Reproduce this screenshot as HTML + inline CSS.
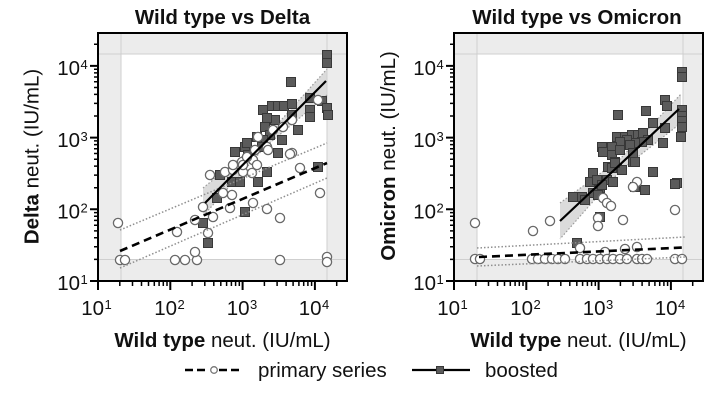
<!DOCTYPE html>
<html>
<head>
<meta charset="utf-8">
<style>
  html,body{margin:0;padding:0;background:#fff;}
  svg{display:block;}
  text{font-family:"Liberation Sans",Arial,Helvetica,sans-serif;fill:#111;}
</style>
</head>
<body>
<svg width="720" height="401" viewBox="0 0 720 401" xmlns="http://www.w3.org/2000/svg">
  <defs>
    <rect id="sq" x="-4.5" y="-4.5" width="9" height="9" fill="#5b5b5b" stroke="#383838" stroke-width="1"/>
    <circle id="ci" cx="0" cy="0" r="4.6" fill="#ffffff" stroke="#6a6a6a" stroke-width="1.3"/>
    <g id="frame">
      <rect x="98" y="33" width="249" height="248" fill="#ececec"/>
      <rect x="121" y="54" width="206" height="205" fill="#ffffff"/>
      <path d="M121 33 V281 M327 33 V281 M98 54 H347 M98 259.5 H347" stroke="#cfcfcf" stroke-width="1" fill="none"/>
    </g>
    <g id="axes">
      <rect x="98" y="33" width="249" height="248" fill="none" stroke="#000" stroke-width="2"/>
      <!-- y major ticks -->
      <path d="M90 281 H98 M90 209.3 H98 M90 137.6 H98 M90 65.9 H98" stroke="#000" stroke-width="2"/>
      <!-- y minor ticks -->
      <path d="M94 259.4 H98 M94 246.8 H98 M94 237.8 H98 M94 230.9 H98 M94 225.2 H98 M94 220.4 H98 M94 216.3 H98 M94 212.6 H98
               M94 187.7 H98 M94 175.1 H98 M94 166.1 H98 M94 159.2 H98 M94 153.5 H98 M94 148.7 H98 M94 144.6 H98 M94 140.9 H98
               M94 116 H98 M94 103.4 H98 M94 94.4 H98 M94 87.5 H98 M94 81.8 H98 M94 77 H98 M94 72.9 H98 M94 69.2 H98
               M94 44.3 H98" stroke="#000" stroke-width="1.5"/>
      <!-- x major ticks -->
      <path d="M98 281 V290 M170.3 281 V290 M242.6 281 V290 M314.9 281 V290" stroke="#000" stroke-width="2"/>
      <!-- x minor ticks -->
      <path d="M119.8 281 V286 M132.5 281 V286 M141.5 281 V286 M148.5 281 V286 M154.3 281 V286 M159.1 281 V286 M163.3 281 V286 M167 281 V286
               M192.1 281 V286 M204.8 281 V286 M213.8 281 V286 M220.8 281 V286 M226.6 281 V286 M231.4 281 V286 M235.6 281 V286 M239.3 281 V286
               M264.4 281 V286 M277.1 281 V286 M286.1 281 V286 M293.1 281 V286 M298.9 281 V286 M303.7 281 V286 M307.9 281 V286 M311.6 281 V286
               M336.7 281 V286" stroke="#000" stroke-width="1.5"/>
      <!-- y tick labels -->
      <g font-size="20.5">
        <text x="80" y="75" text-anchor="end">10</text>
        <text x="80" y="147" text-anchor="end">10</text>
        <text x="80" y="218.5" text-anchor="end">10</text>
        <text x="80" y="290" text-anchor="end">10</text>
      </g>
      <g font-size="13">
        <text x="80.5" y="69">4</text>
        <text x="80.5" y="141">3</text>
        <text x="80.5" y="212.5">2</text>
        <text x="80.5" y="284">1</text>
      </g>
      <!-- x tick labels -->
      <g font-size="20.5">
        <text x="104" y="315" text-anchor="end">10</text>
        <text x="177" y="315" text-anchor="end">10</text>
        <text x="249.5" y="315" text-anchor="end">10</text>
        <text x="321.5" y="315" text-anchor="end">10</text>
      </g>
      <g font-size="13">
        <text x="104.5" y="309">1</text>
        <text x="177.5" y="309">2</text>
        <text x="250" y="309">3</text>
        <text x="322" y="309">4</text>
      </g>
      <!-- x axis title -->
      <text x="222.5" y="347" font-size="20.5" text-anchor="middle"><tspan font-weight="bold">Wild type</tspan> neut. (IU/mL)</text>
    </g>
  </defs>

  <!-- ===================== LEFT PANEL ===================== -->
  <use href="#frame"/>

  <!-- boosted CI band -->
  <polygon points="203,188 265,138 327,69 327,95 265,147 203,216" fill="#cfcfcf" opacity="0.75"/>
  <path d="M203 188 L265 138 L327 69 M327 95 L265 147 L203 216" stroke="#9a9a9a" stroke-width="1.2" stroke-dasharray="1.5,2" fill="none"/>

  <!-- squares left -->
  <g>
    <use href="#sq" x="327" y="55"/><use href="#sq" x="327" y="63"/>
    <use href="#sq" x="291" y="82"/><use href="#sq" x="310" y="98"/>
    <use href="#sq" x="322" y="101"/><use href="#sq" x="327" y="108"/>
    <use href="#sq" x="328" y="115"/><use href="#sq" x="310" y="110"/>
    <use href="#sq" x="310" y="117"/>
    <use href="#sq" x="263" y="110"/><use href="#sq" x="272" y="106"/>
    <use href="#sq" x="278" y="106"/><use href="#sq" x="284" y="106"/>
    <use href="#sq" x="292" y="104"/><use href="#sq" x="292" y="115"/>
    <use href="#sq" x="275" y="120"/><use href="#sq" x="267" y="118"/>
    <use href="#sq" x="265" y="127"/><use href="#sq" x="270" y="135"/>
    <use href="#sq" x="298" y="130"/><use href="#sq" x="282" y="140"/>
    <use href="#sq" x="278" y="153"/><use href="#sq" x="263" y="140"/>
    <use href="#sq" x="235" y="152"/><use href="#sq" x="245" y="147"/>
    <use href="#sq" x="248" y="155"/><use href="#sq" x="262" y="147"/>
    <use href="#sq" x="257" y="137"/><use href="#sq" x="247" y="143"/>
    <use href="#sq" x="203" y="223"/><use href="#sq" x="208" y="243"/>
    <use href="#sq" x="217" y="198"/><use href="#sq" x="220" y="175"/>
    <use href="#sq" x="232" y="182"/><use href="#sq" x="240" y="182"/>
    <use href="#sq" x="245" y="212"/><use href="#sq" x="258" y="182"/>
    <use href="#sq" x="267" y="172"/><use href="#sq" x="318" y="167"/>
  </g>
  <!-- circles left -->
  <g>
    <use href="#ci" x="318" y="100"/><use href="#ci" x="292" y="120"/>
    <use href="#ci" x="283" y="127"/><use href="#ci" x="273" y="130"/>
    <use href="#ci" x="258" y="137"/><use href="#ci" x="267" y="147"/>
    <use href="#ci" x="255" y="150"/><use href="#ci" x="292" y="153"/>
    <use href="#ci" x="242" y="162"/><use href="#ci" x="253" y="160"/>
    <use href="#ci" x="118" y="223"/><use href="#ci" x="120" y="260"/>
    <use href="#ci" x="125" y="260"/><use href="#ci" x="177" y="232"/>
    <use href="#ci" x="175" y="260"/><use href="#ci" x="185" y="260"/>
    <use href="#ci" x="197" y="260"/><use href="#ci" x="195" y="252"/>
    <use href="#ci" x="203" y="207"/><use href="#ci" x="195" y="220"/>
    <use href="#ci" x="213" y="217"/><use href="#ci" x="208" y="233"/>
    <use href="#ci" x="210" y="175"/><use href="#ci" x="225" y="172"/>
    <use href="#ci" x="233" y="170"/><use href="#ci" x="243" y="172"/>
    <use href="#ci" x="252" y="173"/><use href="#ci" x="257" y="165"/>
    <use href="#ci" x="243" y="165"/><use href="#ci" x="233" y="165"/>
    <use href="#ci" x="247" y="157"/><use href="#ci" x="223" y="193"/>
    <use href="#ci" x="232" y="195"/><use href="#ci" x="230" y="208"/>
    <use href="#ci" x="253" y="203"/><use href="#ci" x="267" y="209"/>
    <use href="#ci" x="280" y="218"/><use href="#ci" x="280" y="260"/>
    <use href="#ci" x="290" y="154"/><use href="#ci" x="300" y="168"/>
    <use href="#ci" x="320" y="193"/><use href="#ci" x="327" y="257"/>
    <use href="#ci" x="327" y="262"/><use href="#ci" x="268" y="150"/>
  </g>

  <!-- primary CI and regression left -->
  <path d="M120 230 L327 143 M120 268 L327 178" stroke="#8f8f8f" stroke-width="1.5" stroke-dasharray="1.5,2" fill="none"/>
  <path d="M120 251 L327 163" stroke="#000" stroke-width="2.6" stroke-dasharray="8,5" fill="none"/>
  <!-- boosted regression left -->
  <path d="M205 203 L326 81" stroke="#000" stroke-width="2.2" fill="none"/>

  <use href="#axes"/>
  <text x="222.5" y="24" font-size="20.5" font-weight="bold" text-anchor="middle">Wild type vs Delta</text>
  <text transform="translate(38.5,156.5) rotate(-90)" font-size="20.5" text-anchor="middle"><tspan font-weight="bold">Delta</tspan> neut. (IU/mL)</text>

  <!-- ===================== RIGHT PANEL ===================== -->
  <g transform="translate(356,0)"><use href="#frame"/></g>

  <!-- boosted CI band right -->
  <polygon points="560,203 620,159 681,94 681,123 620,171 560,239" fill="#cfcfcf" opacity="0.75"/>
  <path d="M560 203 L620 159 L681 94 M681 123 L620 171 L560 239" stroke="#9a9a9a" stroke-width="1.2" stroke-dasharray="1.5,2" fill="none"/>

  <!-- squares right -->
  <g>
    <use href="#sq" x="682" y="72"/><use href="#sq" x="682" y="77"/>
    <use href="#sq" x="665" y="100"/><use href="#sq" x="667" y="106"/>
    <use href="#sq" x="618" y="115"/><use href="#sq" x="646" y="111"/>
    <use href="#sq" x="653" y="123"/><use href="#sq" x="682" y="110"/>
    <use href="#sq" x="682" y="116"/><use href="#sq" x="682" y="121"/>
    <use href="#sq" x="682" y="127"/><use href="#sq" x="665" y="128"/>
    <use href="#sq" x="681" y="137"/><use href="#sq" x="663" y="143"/>
    <use href="#sq" x="617" y="137"/><use href="#sq" x="625" y="137"/>
    <use href="#sq" x="632" y="135"/><use href="#sq" x="638" y="135"/>
    <use href="#sq" x="643" y="133"/><use href="#sq" x="648" y="140"/>
    <use href="#sq" x="642" y="142"/><use href="#sq" x="635" y="143"/>
    <use href="#sq" x="627" y="140"/><use href="#sq" x="620" y="142"/>
    <use href="#sq" x="630" y="145"/><use href="#sq" x="612" y="147"/>
    <use href="#sq" x="602" y="147"/><use href="#sq" x="603" y="152"/>
    <use href="#sq" x="612" y="155"/><use href="#sq" x="633" y="153"/>
    <use href="#sq" x="620" y="150"/><use href="#sq" x="615" y="162"/>
    <use href="#sq" x="633" y="162"/><use href="#sq" x="608" y="167"/>
    <use href="#sq" x="617" y="168"/><use href="#sq" x="593" y="173"/>
    <use href="#sq" x="607" y="180"/><use href="#sq" x="613" y="182"/>
    <use href="#sq" x="653" y="172"/><use href="#sq" x="677" y="183"/>
    <use href="#sq" x="645" y="190"/><use href="#sq" x="590" y="182"/>
    <use href="#sq" x="600" y="188"/><use href="#sq" x="582" y="197"/>
    <use href="#sq" x="573" y="197"/><use href="#sq" x="593" y="193"/>
    <use href="#sq" x="612" y="168"/><use href="#sq" x="622" y="170"/>
    <use href="#sq" x="615" y="163"/><use href="#sq" x="635" y="162"/>
    <use href="#sq" x="597" y="180"/><use href="#sq" x="602" y="185"/>
    <use href="#sq" x="635" y="187"/><use href="#sq" x="675" y="184"/>
    <use href="#sq" x="585" y="200"/><use href="#sq" x="598" y="195"/>
    <use href="#sq" x="600" y="217"/><use href="#sq" x="577" y="243"/>
  </g>
  <!-- circles right -->
  <g>
    <use href="#ci" x="475" y="223"/><use href="#ci" x="533" y="231"/>
    <use href="#ci" x="550" y="221"/><use href="#ci" x="603" y="198"/>
    <use href="#ci" x="607" y="203"/><use href="#ci" x="611" y="206"/>
    <use href="#ci" x="598" y="218"/><use href="#ci" x="598" y="226"/>
    <use href="#ci" x="623" y="220"/><use href="#ci" x="637" y="182"/>
    <use href="#ci" x="633" y="187"/><use href="#ci" x="675" y="210"/>
    <use href="#ci" x="580" y="248"/><use href="#ci" x="605" y="252"/>
    <use href="#ci" x="625" y="249"/><use href="#ci" x="637" y="247"/>
    <use href="#ci" x="475" y="259"/><use href="#ci" x="480" y="259"/>
    <use href="#ci" x="532" y="259"/><use href="#ci" x="538" y="259"/>
    <use href="#ci" x="545" y="259"/><use href="#ci" x="552" y="259"/>
    <use href="#ci" x="558" y="259"/><use href="#ci" x="565" y="259"/>
    <use href="#ci" x="580" y="259"/><use href="#ci" x="587" y="259"/>
    <use href="#ci" x="593" y="259"/><use href="#ci" x="600" y="259"/>
    <use href="#ci" x="607" y="259"/><use href="#ci" x="613" y="259"/>
    <use href="#ci" x="620" y="259"/><use href="#ci" x="627" y="259"/>
    <use href="#ci" x="637" y="259"/><use href="#ci" x="642" y="259"/>
    <use href="#ci" x="647" y="259"/><use href="#ci" x="675" y="259"/>
    <use href="#ci" x="682" y="259"/>
  </g>

  <!-- primary CI and regression right -->
  <path d="M477 248 L685 237 M477 266 L685 257" stroke="#8f8f8f" stroke-width="1.5" stroke-dasharray="1.5,2" fill="none"/>
  <path d="M479 257 L683 247.5" stroke="#000" stroke-width="2.6" stroke-dasharray="8,5" fill="none"/>
  <!-- boosted regression right -->
  <path d="M560 221 L679 109" stroke="#000" stroke-width="2.2" fill="none"/>

  <g transform="translate(356,0)"><use href="#axes"/></g>
  <text x="577" y="24" font-size="20.5" font-weight="bold" text-anchor="middle">Wild type vs Omicron</text>
  <text transform="translate(395,156) rotate(-90)" font-size="20.5" text-anchor="middle"><tspan font-weight="bold">Omicron</tspan> neut. (IU/mL)</text>

  <!-- ===================== LEGEND ===================== -->
  <path d="M185 370 H209 M219 370 H243" stroke="#000" stroke-width="2.4" stroke-dasharray="8,4" fill="none"/>
  <circle cx="214" cy="370" r="3.3" fill="#fff" stroke="#777" stroke-width="1.3"/>
  <text x="258" y="377" font-size="20.5">primary series</text>

  <path d="M412 370 H470" stroke="#000" stroke-width="2.2" fill="none"/>
  <rect x="436.5" y="366.5" width="7" height="7" fill="#5b5b5b" stroke="#383838" stroke-width="1"/>
  <text x="485" y="377" font-size="20.5">boosted</text>
</svg>
</body>
</html>
